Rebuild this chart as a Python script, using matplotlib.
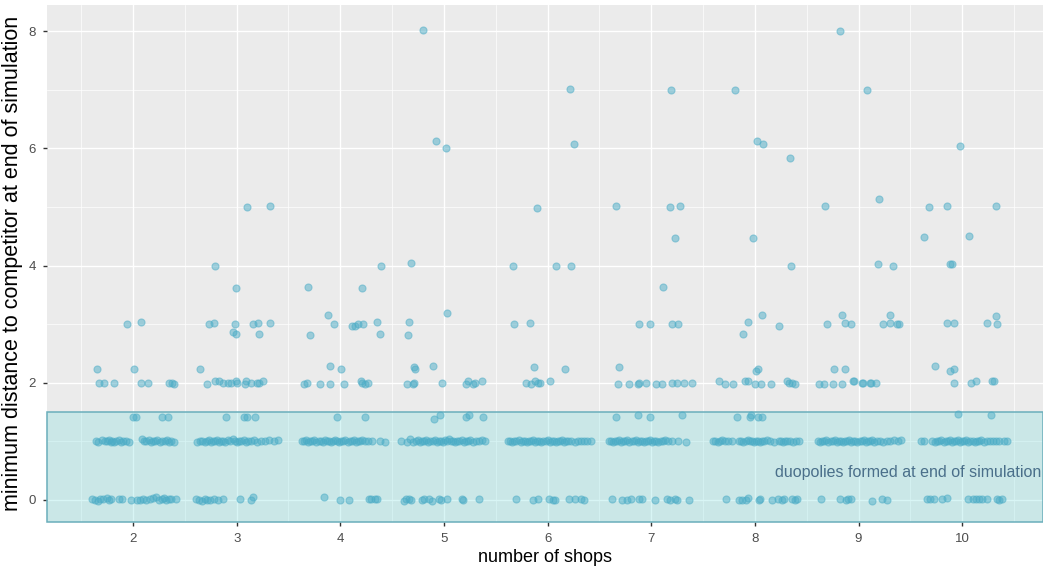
import matplotlib
matplotlib.use("Agg")
import matplotlib.pyplot as plt
from matplotlib.patches import Rectangle

plt.rcParams['font.family'] = ['Liberation Sans', 'DejaVu Sans']

# jittered runs: (number of shops + jitter, min distance to competitor)
# distance 0 -> shops sharing a cell
zero_pts = [
    (1.60, 0.02), (1.63, 0.00), (1.66, -0.02), (1.68, 0.01), (1.71, 0.02), (1.75, 0.03),
    (1.77, 0.00), (1.79, 0.01), (1.86, 0.02), (1.89, 0.02), (1.98, 0.00), (2.04, -0.01),
    (2.07, 0.00), (2.10, 0.01), (2.13, 0.00), (2.16, 0.02), (2.19, 0.03), (2.22, 0.04),
    (2.25, -0.01), (2.28, 0.02), (2.30, 0.03), (2.32, 0.00), (2.35, 0.01), (2.37, 0.02),
    (2.41, 0.01),
    (2.61, 0.02), (2.64, 0.00), (2.67, -0.02), (2.69, 0.01), (2.71, -0.01), (2.74, 0.00),
    (2.78, 0.02), (2.82, 0.00), (2.87, 0.01), (3.03, 0.01), (3.14, -0.01), (3.16, 0.04),
    (3.84, 0.05), (4.00, 0.00), (4.08, 0.00), (4.28, 0.01), (4.30, 0.02), (4.33, 0.02),
    (4.35, 0.02),
    (4.61, -0.02), (4.63, 0.01), (4.66, 0.01), (4.68, 0.00), (4.79, 0.00), (4.81, 0.02),
    (4.86, 0.01), (4.88, -0.02), (4.95, 0.01), (4.97, 0.00), (5.03, 0.01), (5.17, 0.02),
    (5.18, 0.00), (5.34, 0.01),
    (5.70, 0.01), (5.86, 0.00), (5.91, 0.02), (6.01, 0.02), (6.05, -0.01), (6.07, -0.01),
    (6.21, 0.02), (6.26, 0.01), (6.32, 0.02), (6.35, -0.01),
    (6.62, 0.01), (6.72, -0.01), (6.77, 0.00), (6.80, 0.02), (6.88, 0.02), (6.91, 0.01),
    (7.04, 0.00), (7.15, 0.01), (7.18, 0.00), (7.23, 0.01), (7.25, -0.01), (7.36, 0.00),
    (7.72, 0.02), (7.85, 0.00), (7.88, -0.01), (7.91, 0.00), (7.93, 0.03), (8.04, -0.01),
    (8.05, 0.01), (8.17, 0.00), (8.22, 0.01), (8.26, 0.00), (8.28, 0.01), (8.36, 0.01),
    (8.39, 0.00), (8.41, 0.01),
    (8.64, 0.02), (8.82, 0.02), (8.88, -0.01), (8.90, 0.01), (8.93, 0.02), (9.13, -0.02),
    (9.23, 0.01), (9.27, -0.01),
    (9.66, 0.01), (9.69, 0.01), (9.73, 0.01), (9.81, 0.02), (9.85, 0.03), (10.06, 0.01),
    (10.10, 0.02), (10.13, 0.02), (10.16, 0.01), (10.19, 0.02), (10.24, 0.01), (10.34, 0.01),
    (10.36, -0.01), (10.38, 0.01),
]

# distance 1 -> direct neighbours
one_pts = [
    (1.64, 1.01), (1.66, 0.99), (1.70, 1.02), (1.73, 1.01), (1.75, 1.00), (1.77, 1.02),
    (1.79, 0.99), (1.80, 1.01), (1.82, 0.98), (1.84, 1.00), (1.86, 1.02), (1.88, 0.99),
    (1.90, 1.01), (1.93, 1.00), (1.96, 0.99),
    (2.09, 1.03), (2.11, 1.01), (2.13, 1.00), (2.15, 1.02), (2.17, 0.99), (2.19, 1.01),
    (2.21, 1.00), (2.23, 1.02), (2.26, 0.99), (2.28, 1.01), (2.31, 1.00), (2.33, 1.02),
    (2.35, 0.99), (2.37, 1.00), (2.40, 0.99),
    (2.62, 0.99), (2.65, 1.00), (2.67, 1.01), (2.69, 0.98), (2.71, 1.00), (2.73, 1.02),
    (2.75, 0.99), (2.77, 1.01), (2.79, 1.00), (2.81, 1.02), (2.83, 0.99), (2.85, 1.01),
    (2.87, 1.00), (2.89, 0.99), (2.92, 1.02), (2.94, 1.00), (2.96, 1.03), (2.98, 1.01),
    (3.00, 0.99), (3.02, 1.01), (3.04, 1.00), (3.07, 1.02), (3.09, 0.99), (3.11, 1.01),
    (3.14, 1.00), (3.17, 1.02), (3.20, 0.99), (3.23, 1.01), (3.27, 1.00), (3.31, 1.02),
    (3.36, 1.00), (3.40, 1.02),
    (3.63, 1.01), (3.65, 1.00), (3.67, 1.02), (3.69, 0.99), (3.71, 1.01), (3.73, 1.00),
    (3.75, 1.02), (3.77, 0.99), (3.79, 1.01), (3.81, 1.00), (3.83, 0.99), (3.85, 1.02),
    (3.87, 1.00), (3.89, 1.01), (3.91, 0.99), (3.93, 1.00), (3.95, 1.02), (3.97, 1.00),
    (3.99, 0.99), (4.01, 1.01), (4.03, 1.00), (4.05, 1.02), (4.07, 0.99), (4.09, 1.01),
    (4.11, 1.00), (4.13, 1.02), (4.15, 0.99), (4.17, 1.01), (4.19, 1.00), (4.21, 1.02),
    (4.24, 1.00), (4.27, 1.01), (4.31, 1.00), (4.38, 1.00), (4.43, 0.99),
    (4.59, 1.01), (4.64, 0.99), (4.67, 1.03), (4.70, 0.99), (4.73, 1.00), (4.75, 1.02),
    (4.77, 0.99), (4.79, 1.01), (4.81, 1.00), (4.83, 1.02), (4.85, 0.99), (4.87, 1.01),
    (4.89, 1.00), (4.91, 1.02), (4.93, 0.99), (4.95, 1.01), (4.97, 1.00), (4.99, 0.99),
    (5.01, 1.02), (5.03, 1.00), (5.05, 1.03), (5.07, 1.00), (5.09, 1.01), (5.11, 0.99),
    (5.13, 1.01), (5.15, 1.00), (5.17, 1.02), (5.19, 0.99), (5.21, 1.01), (5.23, 1.00),
    (5.25, 1.02), (5.28, 0.99), (5.31, 1.01), (5.34, 1.00), (5.37, 1.02), (5.40, 1.00),
    (5.62, 1.00), (5.64, 1.01), (5.66, 0.99), (5.68, 1.01), (5.70, 1.00), (5.72, 1.02),
    (5.74, 0.99), (5.76, 1.01), (5.78, 1.00), (5.80, 0.99), (5.82, 1.01), (5.84, 1.00),
    (5.86, 1.02), (5.88, 0.99), (5.90, 1.01), (5.92, 1.00), (5.94, 0.99), (5.96, 1.01),
    (5.98, 1.00), (6.00, 1.02), (6.02, 0.99), (6.04, 1.01), (6.06, 1.00), (6.08, 0.99),
    (6.10, 1.01), (6.12, 1.00), (6.14, 1.02), (6.16, 0.99), (6.18, 1.01), (6.20, 1.00),
    (6.23, 1.01), (6.26, 0.99), (6.29, 1.01), (6.32, 1.00), (6.35, 1.01), (6.38, 1.00),
    (6.42, 1.00),
    (6.59, 1.01), (6.61, 1.00), (6.63, 0.99), (6.65, 1.01), (6.67, 1.00), (6.69, 1.02),
    (6.71, 0.99), (6.73, 1.01), (6.75, 1.00), (6.77, 1.02), (6.79, 0.99), (6.81, 1.01),
    (6.83, 1.00), (6.85, 1.02), (6.87, 0.99), (6.89, 1.01), (6.91, 1.00), (6.93, 0.99),
    (6.95, 1.01), (6.97, 1.00), (6.99, 1.02), (7.01, 0.99), (7.03, 1.01), (7.05, 1.00),
    (7.07, 0.99), (7.09, 1.01), (7.11, 1.00), (7.13, 1.02), (7.16, 1.00), (7.20, 1.01),
    (7.26, 1.01), (7.34, 0.99),
    (7.60, 1.01), (7.62, 1.00), (7.64, 0.99), (7.66, 1.01), (7.68, 1.02), (7.71, 1.00),
    (7.74, 1.00), (7.78, 1.01), (7.85, 1.00), (7.87, 1.01), (7.89, 0.99), (7.91, 1.00),
    (7.93, 1.02), (7.95, 1.00), (7.97, 1.01), (7.99, 0.99), (8.01, 1.00), (8.03, 1.01),
    (8.05, 0.99), (8.07, 1.00), (8.09, 1.01), (8.12, 1.02), (8.15, 1.00), (8.18, 0.99),
    (8.23, 1.00), (8.25, 1.01), (8.27, 0.99), (8.29, 1.00), (8.31, 1.01), (8.34, 1.00),
    (8.37, 0.99), (8.40, 1.00), (8.43, 1.00),
    (8.61, 1.00), (8.63, 0.99), (8.65, 1.01), (8.67, 1.00), (8.69, 1.02), (8.71, 0.99),
    (8.73, 1.01), (8.75, 1.00), (8.77, 1.02), (8.79, 0.99), (8.81, 1.01), (8.83, 1.00),
    (8.85, 0.99), (8.87, 1.01), (8.89, 1.00), (8.91, 1.02), (8.93, 0.99), (8.95, 1.01),
    (8.97, 1.00), (8.99, 0.99), (9.01, 1.01), (9.03, 1.00), (9.05, 1.02), (9.07, 0.99),
    (9.09, 1.01), (9.11, 1.00), (9.13, 1.02), (9.15, 0.99), (9.18, 1.01), (9.21, 1.00),
    (9.24, 0.99), (9.27, 1.01), (9.30, 1.00), (9.34, 1.02), (9.38, 1.00), (9.41, 1.02),
    (9.60, 1.00), (9.63, 1.00), (9.71, 1.01), (9.74, 0.99), (9.76, 1.01), (9.78, 1.00),
    (9.80, 1.02), (9.82, 0.99), (9.84, 1.01), (9.86, 1.00), (9.88, 1.02), (9.90, 0.99),
    (9.92, 1.01), (9.94, 1.00), (9.96, 1.02), (9.98, 0.99), (10.00, 1.01), (10.02, 1.00),
    (10.04, 1.02), (10.06, 0.99), (10.08, 1.01), (10.10, 1.00), (10.12, 0.99), (10.14, 1.01),
    (10.16, 1.00), (10.18, 1.02), (10.21, 0.99), (10.24, 1.01), (10.27, 1.00), (10.30, 1.01),
    (10.33, 1.00), (10.36, 1.01), (10.40, 1.00), (10.43, 1.00),
]

# distance sqrt(2) -> diagonal neighbours
diag_pts = [
    (2.00, 1.42), (2.03, 1.41), (2.28, 1.41), (2.34, 1.41), (2.90, 1.42), (3.07, 1.42),
    (3.10, 1.41), (3.18, 1.42), (3.97, 1.42), (4.24, 1.42), (4.90, 1.38), (4.96, 1.45),
    (5.21, 1.41), (5.24, 1.45), (5.38, 1.41), (6.66, 1.41), (6.87, 1.45), (6.99, 1.41),
    (7.30, 1.45), (7.83, 1.41), (7.95, 1.42), (7.96, 1.44), (8.03, 1.41), (8.07, 1.42),
    (9.96, 1.47), (10.28, 1.45),
]

# distance >= 2 -> no duopoly
far_pts = [
    (1.65, 2.24), (1.67, 2.00), (1.72, 2.00), (1.82, 2.00), (1.94, 3.00), (2.01, 2.24),
    (2.08, 3.04), (2.08, 1.99), (2.14, 2.00), (2.35, 2.00), (2.38, 2.00), (2.40, 1.98),
    (2.65, 2.24), (2.71, 1.98), (2.73, 3.00), (2.78, 3.02), (2.79, 4.00), (2.79, 2.02),
    (2.83, 2.02), (2.87, 2.00), (2.92, 2.00), (2.95, 2.00), (2.99, 2.02), (3.00, 2.00),
    (2.98, 3.00), (2.96, 2.87), (2.99, 2.83), (2.99, 3.61), (3.08, 1.98), (3.09, 2.02),
    (3.14, 2.00), (3.16, 3.00), (3.21, 3.02), (3.22, 2.83), (3.20, 2.00), (3.22, 2.00),
    (3.25, 2.02), (3.32, 3.02), (3.10, 5.00), (3.32, 5.02),
    (3.65, 1.98), (3.68, 2.00), (3.69, 3.63), (3.71, 2.81), (3.80, 1.98), (3.88, 3.16),
    (3.90, 2.28), (3.90, 1.98), (3.94, 3.00), (4.01, 2.24), (4.04, 1.98), (4.11, 2.97),
    (4.14, 2.97), (4.17, 3.00), (4.22, 3.00), (4.20, 2.02), (4.21, 2.00), (4.24, 1.98),
    (4.27, 2.00), (4.21, 3.61), (4.35, 3.04), (4.38, 2.83), (4.39, 4.00),
    (4.64, 1.98), (4.70, 1.98), (4.71, 1.99), (4.65, 2.81), (4.66, 3.04), (4.68, 4.05),
    (4.71, 2.26), (4.72, 2.24), (4.89, 2.28), (4.98, 2.00), (5.03, 3.19), (5.21, 1.98),
    (5.23, 2.02), (5.28, 1.98), (5.30, 2.00), (5.37, 2.02), (4.80, 8.02), (4.92, 6.12),
    (5.02, 6.00),
    (5.67, 4.00), (5.68, 3.00), (5.83, 3.02), (5.79, 2.00), (5.84, 1.98), (5.88, 2.02),
    (5.91, 2.00), (5.93, 2.00), (5.87, 2.26), (5.90, 4.98), (6.02, 2.02), (6.08, 4.00),
    (6.23, 4.00), (6.17, 2.24), (6.22, 7.02), (6.25, 6.08),
    (6.66, 5.02), (6.69, 2.26), (6.68, 1.98), (6.79, 1.98), (6.87, 1.98), (6.88, 2.00),
    (6.95, 2.00), (7.05, 1.98), (7.10, 1.98), (6.88, 3.00), (6.99, 3.00), (7.11, 3.63),
    (7.18, 5.00), (7.28, 5.02), (7.23, 4.47), (7.20, 3.00), (7.26, 3.00), (7.20, 2.00),
    (7.25, 2.00), (7.32, 2.00), (7.39, 2.00), (7.19, 7.00),
    (7.65, 2.02), (7.71, 1.98), (7.79, 1.98), (7.81, 7.00), (7.89, 2.83), (7.93, 3.04),
    (7.90, 2.02), (7.93, 2.02), (7.98, 4.47), (8.01, 2.20), (8.03, 2.24), (8.00, 1.98),
    (8.06, 1.98), (8.07, 3.16), (8.02, 6.12), (8.08, 6.08), (8.16, 1.98), (8.23, 2.97),
    (8.31, 2.02), (8.33, 2.00), (8.36, 2.00), (8.39, 1.98), (8.35, 4.00), (8.34, 5.83),
    (8.62, 1.98), (8.67, 1.98), (8.75, 1.98), (8.84, 1.98), (8.68, 5.02), (8.70, 3.00),
    (8.76, 2.24), (8.84, 3.16), (8.87, 3.02), (8.93, 3.00), (8.87, 2.24), (8.95, 2.02),
    (8.96, 2.02), (9.03, 2.00), (9.04, 2.00), (9.11, 2.00), (9.12, 2.00), (9.17, 2.00),
    (8.82, 8.00), (9.08, 7.00), (9.20, 5.14), (9.19, 4.02), (9.33, 4.00), (9.24, 3.00),
    (9.30, 3.02), (9.37, 3.00), (9.39, 3.00), (9.30, 3.16),
    (9.63, 4.49), (9.68, 5.00), (9.74, 2.28), (9.85, 5.02), (9.88, 4.02), (9.90, 4.02),
    (9.85, 3.02), (9.92, 3.02), (9.88, 2.20), (9.92, 2.24), (9.92, 2.00), (9.98, 6.04),
    (10.07, 4.51), (10.09, 2.00), (10.13, 2.02), (10.24, 3.02), (10.29, 2.02), (10.31, 2.02),
    (10.33, 5.02), (10.33, 3.14), (10.34, 3.00),
]

duopoly_cut = 1.5
note = "duopolies formed at end of simulation"
shop_ticks = [2, 3, 4, 5, 6, 7, 8, 9, 10]
dist_ticks = [0, 2, 4, 6, 8]

fig = plt.figure(figsize=(10.43, 5.72), dpi=100)
ax = fig.add_axes([47 / 1043, 1 - 522 / 572, 996 / 1043, 517 / 572])
ax.set_facecolor('#EBEBEB')
for s in ax.spines.values():
    s.set_visible(False)

xlim = (1.17, 10.78)
ylim = (-0.38, 8.45)
ax.set_xlim(xlim)
ax.set_ylim(ylim)

# ggplot-like grid: major on ticks, minor halfway between
ax.set_xticks(shop_ticks)
ax.set_yticks(dist_ticks)
ax.xaxis.set_minor_locator(plt.FixedLocator([1.5 + i for i in range(10)]))
ax.yaxis.set_minor_locator(plt.FixedLocator([1, 3, 5, 7]))
ax.grid(which='major', color='white', linewidth=1.0)
ax.grid(which='minor', color='white', linewidth=0.5)
ax.set_axisbelow(True)
ax.tick_params(which='major', length=3, width=1, color='#333333',
               labelcolor='#4D4D4D', labelsize=9.5, pad=5)
ax.tick_params(which='minor', length=0)

# everything below the cut counts as a duopoly
ax.add_patch(Rectangle((xlim[0], ylim[0]), xlim[1] - xlim[0], duopoly_cut - ylim[0],
                       facecolor=(0.5, 0.87, 0.87, 0.3), edgecolor='#6aaebb',
                       linewidth=1.1, zorder=1.5, clip_on=False))

for pts in (zero_pts, one_pts, diag_pts, far_pts):
    xs, ys = zip(*pts)
    ax.scatter(xs, ys, s=26, color='#4BACC6', alpha=0.5, edgecolors='#4BACC6',
               linewidths=0.8, zorder=3)

ax.text(10.76, 0.47, note, ha='right', va='center', fontsize=11.5, color='#4a6f8a', zorder=4)

ax.set_xlabel('number of shops', fontsize=13, labelpad=3)
ax.set_ylabel('minimum distance to competitor at end of simulation', fontsize=15.5, labelpad=4)

plt.savefig('out.png', dpi=100)
